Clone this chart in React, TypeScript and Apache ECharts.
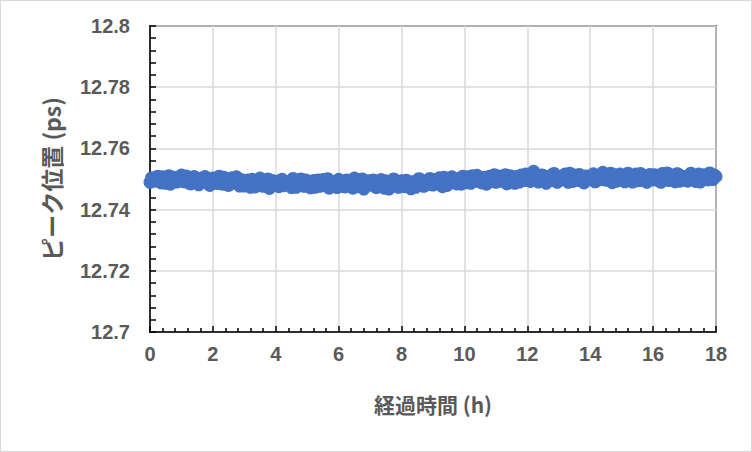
import React, { useEffect, useRef } from "react";
import * as echarts from "echarts";

// samples every 0.1 h starting at 0 h
const SAMPLE_STEP_H = 0.1;
const peakOnGrid: number[] = [
  // 0 h
  12.7489, 12.7499, 12.7503, 12.7494, 12.7507, 12.7486, 12.7511, 12.7500, 12.7492, 12.7505,
  // 1 h
  12.7513, 12.7491, 12.7502, 12.7484, 12.7508, 12.7497, 12.7487, 12.7505, 12.7494, 12.7479,
  // 2 h
  12.7503, 12.7488, 12.7509, 12.7483, 12.7496, 12.7479, 12.7504, 12.7491, 12.7485, 12.7498,
  // 3 h
  12.7477, 12.7497, 12.7473, 12.7492, 12.7484, 12.7503, 12.7476, 12.7490, 12.7469, 12.7495,
  // 4 h
  12.7488, 12.7475, 12.7499, 12.7481, 12.7492, 12.7472, 12.7489, 12.7480, 12.7500, 12.7476,
  // 5 h
  12.7487, 12.7471, 12.7495, 12.7482, 12.7476, 12.7498, 12.7484, 12.7470, 12.7492, 12.7479,
  // 6 h
  12.7499, 12.7480, 12.7474, 12.7493, 12.7485, 12.7503, 12.7475, 12.7490, 12.7467, 12.7487,
  // 7 h
  12.7480, 12.7497, 12.7472, 12.7489, 12.7478, 12.7494, 12.7467, 12.7486, 12.7493, 12.7473,
  // 8 h
  12.7494, 12.7475, 12.7486, 12.7468, 12.7492, 12.7481, 12.7499, 12.7476, 12.7488, 12.7502,
  // 9 h
  12.7480, 12.7494, 12.7504, 12.7475, 12.7497, 12.7486, 12.7507, 12.7491, 12.7502, 12.7483,
  // 10 h
  12.7494, 12.7507, 12.7486, 12.7501, 12.7512, 12.7491, 12.7504, 12.7483, 12.7509, 12.7497,
  // 11 h
  12.7489, 12.7510, 12.7500, 12.7514, 12.7492, 12.7505, 12.7486, 12.7502, 12.7513, 12.7495,
  // 12 h
  12.7504, 12.7492, 12.7525, 12.7507, 12.7497, 12.7512, 12.7486, 12.7505, 12.7515, 12.7494,
  // 13 h
  12.7508, 12.7498, 12.7516, 12.7489, 12.7503, 12.7513, 12.7495, 12.7506, 12.7487, 12.7509,
  // 14 h
  12.7499, 12.7517, 12.7493, 12.7507, 12.7522, 12.7496, 12.7510, 12.7488, 12.7514, 12.7502,
  // 15 h
  12.7511, 12.7491, 12.7519, 12.7500, 12.7508, 12.7494, 12.7518, 12.7503, 12.7489, 12.7515,
  // 16 h
  12.7497, 12.7510, 12.7492, 12.7518, 12.7505, 12.7495, 12.7513, 12.7491, 12.7516, 12.7502,
  // 17 h
  12.7508, 12.7493, 12.7519, 12.7500, 12.7511, 12.7490, 12.7514, 12.7503, 12.7520, 12.7498,
  // 18 h
  12.7508,
];

// samples every 0.1 h starting at 0.05 h
const SAMPLE_OFFSET_H = 0.05;
const peakOffGrid: number[] = [
  // 0 h
  12.7504, 12.7493, 12.7509, 12.7487, 12.7501, 12.7496, 12.7483, 12.7506, 12.7490, 12.7499,
  // 1 h
  12.7492, 12.7510, 12.7486, 12.7500, 12.7505, 12.7481, 12.7498, 12.7508, 12.7489, 12.7495,
  // 2 h
  12.7502, 12.7485, 12.7497, 12.7506, 12.7481, 12.7494, 12.7488, 12.7507, 12.7477, 12.7492,
  // 3 h
  12.7490, 12.7482, 12.7499, 12.7474, 12.7488, 12.7494, 12.7479, 12.7500, 12.7485, 12.7481,
  // 4 h
  12.7483, 12.7496, 12.7478, 12.7490, 12.7486, 12.7502, 12.7473, 12.7493, 12.7484, 12.7497,
  // 5 h
  12.7479, 12.7490, 12.7473, 12.7497, 12.7486, 12.7478, 12.7501, 12.7481, 12.7488, 12.7472,
  // 6 h
  12.7488, 12.7476, 12.7497, 12.7481, 12.7470, 12.7492, 12.7484, 12.7500, 12.7479, 12.7494,
  // 7 h
  12.7489, 12.7475, 12.7484, 12.7498, 12.7470, 12.7487, 12.7479, 12.7500, 12.7476, 12.7491,
  // 8 h
  12.7480, 12.7496, 12.7483, 12.7490, 12.7473, 12.7501, 12.7486, 12.7478, 12.7495, 12.7482,
  // 9 h
  12.7498, 12.7485, 12.7489, 12.7506, 12.7479, 12.7493, 12.7500, 12.7484, 12.7496, 12.7509,
  // 10 h
  12.7488, 12.7501, 12.7511, 12.7493, 12.7498, 12.7487, 12.7506, 12.7500, 12.7492, 12.7514,
  // 11 h
  12.7504, 12.7493, 12.7507, 12.7484, 12.7511, 12.7498, 12.7508, 12.7490, 12.7503, 12.7516,
  // 12 h
  12.7510, 12.7517, 12.7499, 12.7490, 12.7513, 12.7501, 12.7508, 12.7495, 12.7518, 12.7489,
  // 13 h
  12.7496, 12.7512, 12.7504, 12.7519, 12.7492, 12.7500, 12.7515, 12.7497, 12.7510, 12.7501,
  // 14 h
  12.7509, 12.7491, 12.7503, 12.7498, 12.7512, 12.7505, 12.7519, 12.7500, 12.7493, 12.7516,
  // 15 h
  12.7497, 12.7506, 12.7513, 12.7490, 12.7516, 12.7501, 12.7495, 12.7510, 12.7507, 12.7499,
  // 16 h
  12.7514, 12.7501, 12.7489, 12.7507, 12.7520, 12.7498, 12.7504, 12.7517, 12.7493, 12.7509,
  // 17 h
  12.7495, 12.7512, 12.7505, 12.7492, 12.7516, 12.7502, 12.7509, 12.7497, 12.7507, 12.7513,
];

const xTitle = "経過時間 (h)";
const yTitle = "ピーク位置 (ps)";

const X_MIN = 0;
const X_MAX = 18;
const X_INTERVAL = 2;
const Y_MIN = 12.7;
const Y_MAX = 12.8;
const Y_INTERVAL = 0.02;

export default function App() {
  const ref = useRef<HTMLDivElement>(null);

  useEffect(() => {
    document.body.style.margin = "0";
    if (!ref.current) return;
    const chart = echarts.init(ref.current, undefined, { renderer: "svg" });
    const pts: number[][] = [];
    peakOnGrid.forEach((v, i) => pts.push([Number((i * SAMPLE_STEP_H).toFixed(2)), v]));
    peakOffGrid.forEach((v, i) =>
      pts.push([Number((SAMPLE_OFFSET_H + i * SAMPLE_STEP_H).toFixed(2)), v])
    );
    pts.sort((a, b) => a[0] - b[0]);
    const labelStyle = {
      color: "#595959",
      fontFamily: "Liberation Sans",
      fontWeight: "bold" as const,
      fontSize: 20,
    };
    chart.setOption({
      animation: false,
      backgroundColor: "#ffffff",
      grid: {
        left: 149,
        top: 25,
        right: 35,
        bottom: 119,
        show: true,
        borderColor: "#000000",
        borderWidth: 1.5,
        backgroundColor: "transparent",
      },
      xAxis: {
        type: "value",
        min: X_MIN,
        max: X_MAX,
        interval: X_INTERVAL,
        name: xTitle,
        nameLocation: "middle",
        nameGap: 61,
        nameTextStyle: {
          color: "#595959",
          fontFamily: "Noto Sans CJK JP",
          fontWeight: "bold",
          fontSize: 21,
        },
        axisLine: { show: true, onZero: false, lineStyle: { color: "#000000", width: 1.5 } },
        axisTick: { show: true, inside: true, length: 6, lineStyle: { color: "#000000", width: 1.5 } },
        minorTick: { show: true, splitNumber: 5, length: 4, lineStyle: { color: "#000000", width: 1.5 } },
        splitLine: { show: true, lineStyle: { color: "#d9d9d9", width: 1.5 } },
        axisLabel: { ...labelStyle, margin: 12 },
      },
      yAxis: {
        type: "value",
        min: Y_MIN,
        max: Y_MAX,
        interval: Y_INTERVAL,
        name: yTitle,
        nameLocation: "middle",
        nameGap: 88,
        nameRotate: 90,
        nameTextStyle: {
          color: "#595959",
          fontFamily: "Noto Sans CJK JP",
          fontWeight: "bold",
          fontSize: 23,
        },
        axisLine: { show: true, lineStyle: { color: "#000000", width: 1.5 } },
        axisTick: { show: true, inside: true, length: 6, lineStyle: { color: "#000000", width: 1.5 } },
        minorTick: { show: true, splitNumber: 5, length: 6, lineStyle: { color: "#000000", width: 1.5 } },
        splitLine: { show: true, lineStyle: { color: "#d9d9d9", width: 1.5 } },
        axisLabel: {
          ...labelStyle,
          margin: 20,
          formatter: (v: number) => String(parseFloat(v.toFixed(3))),
        },
      },
      series: [
        {
          type: "scatter",
          data: pts,
          symbol: "circle",
          symbolSize: 13,
          itemStyle: { color: "#4472c4", opacity: 1 },
          clip: false,
        },
      ],
    });
    return () => chart.dispose();
  }, []);

  return (
    <div
      style={{
        width: 752,
        height: 452,
        boxSizing: "border-box",
        border: "1px solid #d9d9d9",
        background: "#fff",
      }}
    >
      <div ref={ref} style={{ width: 750, height: 450 }} />
    </div>
  );
}
